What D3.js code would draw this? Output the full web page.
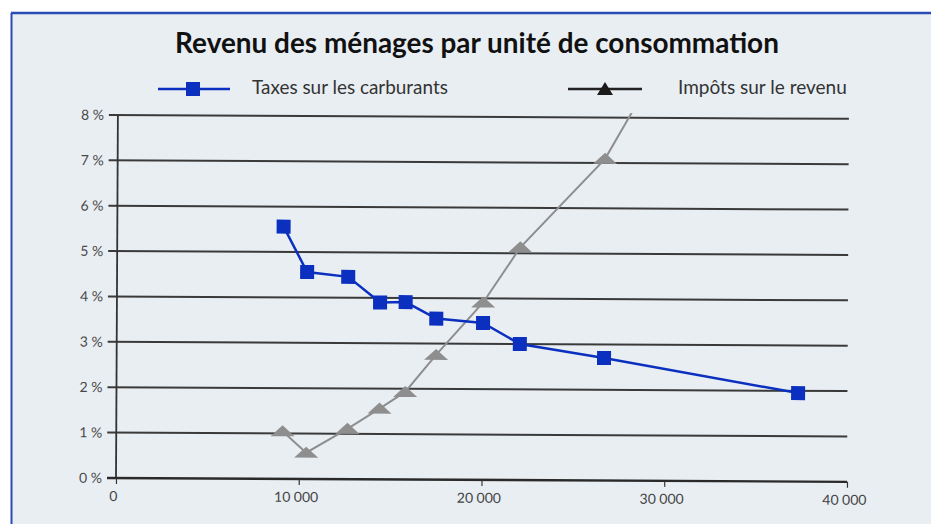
<!DOCTYPE html>
<html>
<head>
<meta charset="utf-8">
<script src="https://cdn.jsdelivr.net/npm/d3@7"></script>
<style>
  html, body { margin: 0; padding: 0; background: #ffffff; }
  svg { display: block; }
</style>
</head>
<body>
<svg id="chart" width="931" height="524"></svg>
<script>
// ---- Data ----
const titleText = "Revenu des ménages par unité de consommation";
const seriesNames = ["Taxes sur les carburants", "Impôts sur le revenu"];
const revenuUC = [9100, 10400, 12650, 14400, 15800, 17480, 20040, 22060, 26670, 37300];
const taxesCarburants = [5.56, 4.56, 4.46, 3.90, 3.91, 3.55, 3.46, 3.00, 2.70, 1.95];
const impotsRevenu = [1.05, 0.58, 1.11, 1.56, 1.93, 2.75, 3.91, 5.13, 7.09, 14.6];
const yTicks = [0, 1, 2, 3, 4, 5, 6, 7, 8];
const xTicks = [0, 10000, 20000, 30000, 40000];

// ---- Layout ----
const W = 931, H = 524;
const svg = d3.select("#chart");
const font = "Lato, 'Open Sans', sans-serif";
const blue = "#0b2fbf";
const gray = "#8e8e8e";

// background & frame
svg.append("rect").attr("width", W).attr("height", H).attr("fill", "#ffffff");
svg.append("rect").attr("x", 11).attr("y", 13).attr("width", W - 11).attr("height", H - 13)
  .attr("fill", "#e9eef3");
svg.append("line").attr("x1", 11).attr("x2", W).attr("y1", 13).attr("y2", 13)
  .attr("stroke", "#2a4cb5").attr("stroke-width", 2.5);
svg.append("line").attr("x1", 11.5).attr("x2", 11.5).attr("y1", 13).attr("y2", H)
  .attr("stroke", "#2a4cb5").attr("stroke-width", 2);

// title
const title = svg.append("text").attr("x", 477).attr("y", 53)
  .attr("text-anchor", "middle").attr("font-family", font).attr("font-weight", "bold")
  .attr("font-size", 22).attr("fill", "#111").text(titleText);
function fitWidth(sel, target) {
  const w = sel.node().getComputedTextLength();
  const fs = parseFloat(sel.attr("font-size"));
  sel.attr("font-size", fs * target / w);
}
fitWidth(title, 604);

// legend
const lg = svg.append("g");
lg.append("line").attr("x1", 158).attr("x2", 230).attr("y1", 89).attr("y2", 89)
  .attr("stroke", blue).attr("stroke-width", 2.5);
lg.append("rect").attr("x", 193 - 7).attr("y", 89 - 7).attr("width", 14).attr("height", 14).attr("fill", blue);
const l1 = lg.append("text").attr("x", 252).attr("y", 93.5).attr("font-family", font)
  .attr("font-size", 13).attr("fill", "#333").text(seriesNames[0]);
fitWidth(l1, 196);
lg.append("line").attr("x1", 568).attr("x2", 642).attr("y1", 89).attr("y2", 89)
  .attr("stroke", "#222").attr("stroke-width", 2.5);
lg.append("path").attr("d", "M605,82L613,95L597,95Z").attr("fill", "#1a1a1a");
const l2 = lg.append("text").attr("x", 678).attr("y", 93.5).attr("font-family", font)
  .attr("font-size", 13).attr("fill", "#333").text(seriesNames[1]);
fitWidth(l2, 169);

// scales
const x = d3.scaleLinear().domain([0, 40000]).range([116, 847]);
const y = d3.scaleLinear().domain([0, 8]).range([478, 115]);

const plot = svg.append("g").attr("transform", "rotate(0.3, 116, 478)");

// gridlines (incl. left tick stubs)
plot.append("g").selectAll("line").data(yTicks.filter(d => d > 0)).join("line")
  .attr("x1", 107).attr("x2", x(40000))
  .attr("y1", d => y(d)).attr("y2", d => y(d))
  .attr("stroke", "#3a3a3a").attr("stroke-width", 2);

// y labels
plot.append("g").selectAll("text").data(yTicks).join("text")
  .attr("x", 102).attr("y", d => y(d)).attr("dy", "0.35em")
  .attr("text-anchor", "end").attr("font-family", font).attr("font-size", 14)
  .attr("fill", "#4a4a4a")
  .text(d => d + " %");

// y axis line
plot.append("line").attr("x1", x(0)).attr("x2", x(0)).attr("y1", y(8)).attr("y2", y(0))
  .attr("stroke", "#333").attr("stroke-width", 1.8);

// x axis
const xAxis = d3.axisBottom(x).tickValues(xTicks).tickSize(6).tickPadding(7)
  .tickFormat(d => d3.format(",")(d).replace(/,/g, " "));
const xa = plot.append("g").attr("transform", `translate(0,${y(0)})`).call(xAxis);
xa.select(".domain").attr("d", `M107,0H${x(40000)}`).attr("stroke", "#2a2a2a").attr("stroke-width", 2.4);
xa.selectAll(".tick line").attr("stroke", "#333").attr("stroke-width", 1.2);
xa.selectAll(".tick text").attr("font-family", font).attr("font-size", 14)
  .attr("fill", "#444").attr("dx", -3);

// clip for the series (line exits the top)
svg.append("defs").append("clipPath").attr("id", "clipTop")
  .append("rect").attr("x", 100).attr("y", y(8.1)).attr("width", 800).attr("height", 400);

// gray series: impôts sur le revenu
const grayData = revenuUC.map((v, i) => [v, impotsRevenu[i]]);
const gg = plot.append("g").attr("clip-path", "url(#clipTop)");
gg.append("path").datum(grayData)
  .attr("d", d3.line().x(d => x(d[0])).y(d => y(d[1])))
  .attr("fill", "none").attr("stroke", gray).attr("stroke-width", 2);
gg.selectAll("path.tri").data(grayData).join("path").attr("class", "tri")
  .attr("d", d => `M${x(d[0])},${y(d[1]) - 6}L${x(d[0]) + 12},${y(d[1]) + 5}L${x(d[0]) - 12},${y(d[1]) + 5}Z`)
  .attr("fill", gray);

// blue series: taxes sur les carburants
const blueData = revenuUC.map((v, i) => [v, taxesCarburants[i]]);
plot.append("path").datum(blueData)
  .attr("d", d3.line().x(d => x(d[0])).y(d => y(d[1])))
  .attr("fill", "none").attr("stroke", blue).attr("stroke-width", 2.5);
plot.selectAll("rect.sq").data(blueData).join("rect").attr("class", "sq")
  .attr("x", d => x(d[0]) - 7).attr("y", d => y(d[1]) - 7)
  .attr("width", 14).attr("height", 14).attr("fill", blue);
</script>
</body>
</html>
